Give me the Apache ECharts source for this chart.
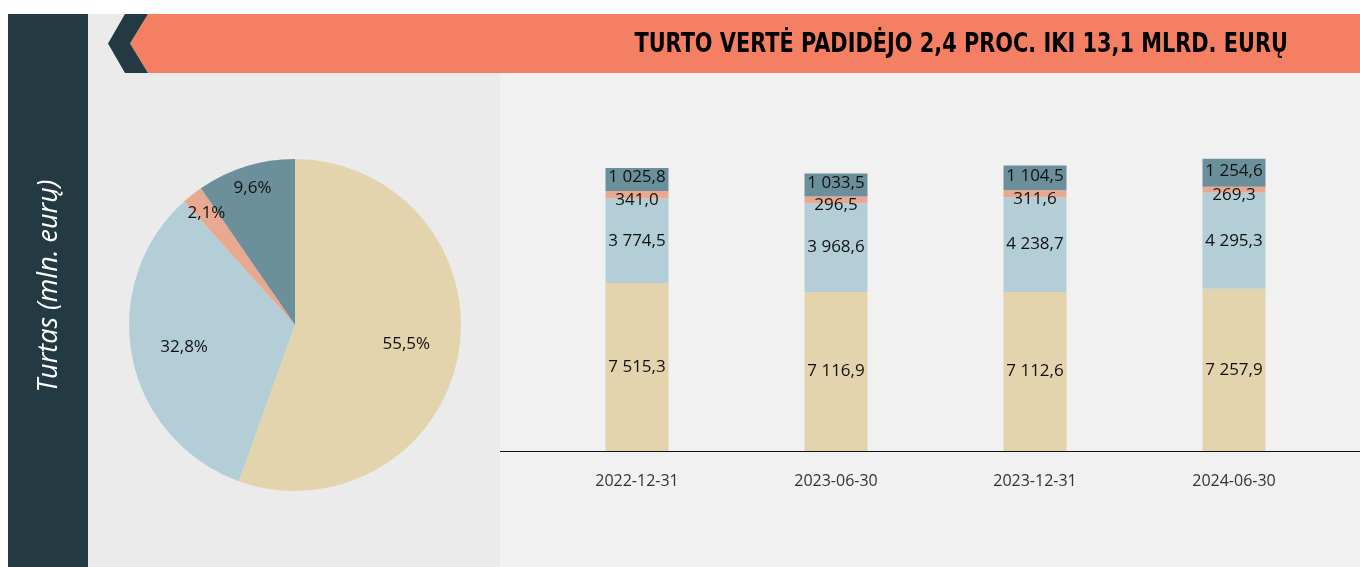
<!DOCTYPE html>
<html>
<head>
<meta charset="utf-8">
<script src="https://cdn.jsdelivr.net/npm/echarts@6/dist/echarts.min.js"></script>
<style>
html,body{margin:0;padding:0;background:#ffffff;}
#c{width:1360px;height:567px;}
</style>
</head>
<body>
<div id="c"></div>
<script>
// ---- data ----
const categories = ['2022-12-31', '2023-06-30', '2023-12-31', '2024-06-30'];
const seriesNames = ['A', 'B', 'C', 'D'];
const valuesA = [7515.3, 7116.9, 7112.6, 7257.9];   // beige
const valuesB = [3774.5, 3968.6, 4238.7, 4295.3];   // light blue
const valuesC = [341.0, 296.5, 311.6, 269.3];       // salmon
const valuesD = [1025.8, 1033.5, 1104.5, 1254.6];   // dark teal
const pieValues = [7257.9, 4295.3, 269.3, 1254.6];  // structure on 2024-06-30
const titleText = 'TURTO VERTĖ PADIDĖJO 2,4 PROC. IKI 13,1 MLRD. EURŲ';
const sideTitle = 'Turtas (mln. eurų)';

const colors = ['#e3d4ae', '#b3ced6', '#e9a991', '#6b909c'];
const fontMain = "'Open Sans', 'Noto Sans', sans-serif";

function fmtNum(v) {
  const s = v.toFixed(1).split('.');
  const intPart = s[0].replace(/\B(?=(\d{3})+(?!\d))/g, ' ');
  return intPart + ',' + s[1];
}
const pieTotal = pieValues.reduce((a, b) => a + b, 0);
function fmtPct(v) {
  return (v / pieTotal * 100).toFixed(1).replace('.', ',') + '%';
}

const chart = echarts.init(document.getElementById('c'), null, {renderer: 'canvas'});

const pieData = pieValues.map((v, i) => ({value: v, name: seriesNames[i], itemStyle: {color: colors[i]}}));
function labelPie(showIdx, r0) {
  return {
    type: 'pie', silent: true, z: 5,
    center: [295, 325], radius: [r0, 166],
    startAngle: 90, clockwise: true,
    itemStyle: {color: 'rgba(0,0,0,0)', borderWidth: 0},
    emphasis: {disabled: true},
    labelLine: {show: false},
    data: pieValues.map((v, i) => ({
      value: v, name: seriesNames[i],
      label: {show: showIdx.indexOf(i) >= 0}
    })),
    label: {
      position: 'inside', color: '#111', fontSize: 17, fontFamily: fontMain,
      formatter: p => fmtPct(p.value)
    }
  };
}

function barSeries(name, vals, color, lblOffset) {
  return {
    type: 'bar', name: name, stack: 'total', data: vals, barWidth: 63,
    itemStyle: {color: color},
    emphasis: {disabled: true},
    label: {
      show: true, position: 'inside', color: '#111', fontSize: 17, fontFamily: fontMain,
      offset: lblOffset, formatter: p => fmtNum(p.value)
    }
  };
}

const option = {
  animation: false,
  backgroundColor: '#ffffff',
  grid: {left: 537.5, right: 26.5, top: 138, bottom: 116},
  xAxis: {
    type: 'category', data: categories,
    axisLine: {show: false}, axisTick: {show: false},
    axisLabel: {color: '#333', fontSize: 16, fontFamily: fontMain, margin: 22}
  },
  yAxis: {type: 'value', min: 0, max: 14000, show: false, splitLine: {show: false}},
  graphic: [
    {type: 'rect', z: -10, silent: true, shape: {x: 8, y: 14, width: 80, height: 553}, style: {fill: '#233a42'}},
    {type: 'rect', z: -10, silent: true, shape: {x: 88, y: 14, width: 412, height: 553}, style: {fill: '#ebebeb'}},
    {type: 'rect', z: -10, silent: true, shape: {x: 500, y: 14, width: 860, height: 553}, style: {fill: '#f1f1f1'}},
    {type: 'polygon', z: -5, silent: true, shape: {points: [[148, 14], [1360, 14], [1360, 73], [148, 73], [130, 43.5]]}, style: {fill: '#f47f62'}},
    {type: 'polygon', z: -5, silent: true, shape: {points: [[125, 14], [148, 14], [130, 43.5], [148, 73], [125, 73], [108, 43.5]]}, style: {fill: '#233a42'}},
    {type: 'text', silent: true, x: 1288, y: 45, scaleY: 1.13, style: {
      text: titleText, align: 'right', verticalAlign: 'middle', fill: '#000',
      font: "bold 23.2px 'Liberation Sans Narrow', 'DejaVu Sans Condensed', 'Open Sans', sans-serif"
    }},
    {type: 'text', silent: true, x: 49, y: 286, rotation: Math.PI / 2, style: {
      text: sideTitle, align: 'center', verticalAlign: 'middle', fill: '#ffffff',
      font: "italic 27px 'Open Sans', 'Noto Sans', sans-serif"
    }},
    {type: 'line', silent: true, z: 10, shape: {x1: 500, y1: 451.5, x2: 1360, y2: 451.5}, style: {stroke: '#111', lineWidth: 1}}
  ],
  series: [
    {
      type: 'pie', silent: true,
      center: [295, 325], radius: [0, 166],
      startAngle: 90, clockwise: true,
      emphasis: {disabled: true},
      label: {show: false}, labelLine: {show: false},
      itemStyle: {borderWidth: 0},
      data: pieData
    },
    labelPie([0, 1], 54),
    labelPie([2, 3], 114),
    barSeries(seriesNames[0], valuesA, colors[0], [0, 0]),
    barSeries(seriesNames[1], valuesB, colors[1], [0, 0]),
    barSeries(seriesNames[2], valuesC, colors[2], [0, 5]),
    barSeries(seriesNames[3], valuesD, colors[3], [0, -2])
  ]
};
chart.setOption(option);
</script>
</body>
</html>
